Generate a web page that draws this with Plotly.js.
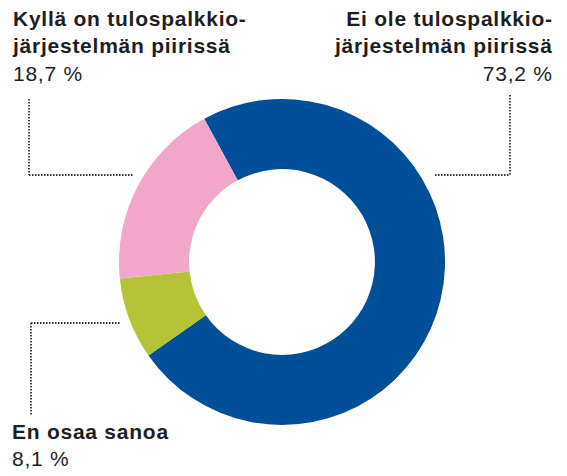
<!DOCTYPE html>
<html>
<head>
<meta charset="utf-8">
<script src="https://cdn.plot.ly/plotly-3.0.1.min.js"></script>
<style>html,body{margin:0;padding:0;background:#fff;}#chart{width:567px;height:476px;}
.annotation-text{letter-spacing:0.75px;}</style>
</head>
<body>
<div id="chart"></div>
<script>
const categories = ["Ei ole tulospalkkio-<br>järjestelmän piirissä", "En osaa sanoa", "Kyllä on tulospalkkio-<br>järjestelmän piirissä"];
const values = [73.2, 8.1, 18.7];
const valueLabels = ["73,2 %", "8,1 %", "18,7 %"];
const colors = ["#004f98", "#b5c337", "#f2a6c9"];

const W = 567, H = 476;
const px = x => x / W;
const py = y => 1 - y / H;

const trace = {
  type: "pie",
  values: values,
  labels: categories,
  sort: false,
  direction: "clockwise",
  rotation: -28.5,
  hole: 0.57,
  textinfo: "none",
  hoverinfo: "label+percent",
  marker: {colors: colors, line: {width: 0}},
  domain: {x: [px(119), px(445)], y: [py(425), py(99)]},
  showlegend: false
};

const font = "Liberation Sans, Arial, Helvetica, sans-serif";
const tc = "#1e1e1e";
function lab(i, x, y, xanchor, align) {
  return {
    xref: "paper", yref: "paper", x: px(x), y: py(y),
    xanchor: xanchor, yanchor: "top", align: align, showarrow: false,
    text: "<b>" + categories[i] + "</b><br>" + valueLabels[i],
    font: {family: font, size: 21, color: tc}
  };
}

const lineStyle = {color: "#333333", width: 1.8, dash: "1.5px,1.5px"};
function seg(x0, y0, x1, y1) {
  return {type: "line", xref: "paper", yref: "paper", x0: px(x0), y0: py(y0), x1: px(x1), y1: py(y1), line: lineStyle};
}

const layout = {
  width: W, height: H,
  margin: {l: 0, r: 0, t: 0, b: 0},
  paper_bgcolor: "#ffffff",
  plot_bgcolor: "#ffffff",
  annotations: [
    lab(2, 10, 5, "left", "left"),
    lab(0, 555, 5, "right", "right"),
    lab(1, 10, 418, "left", "left")
  ],
  shapes: [
    seg(29, 99, 29, 175), seg(29, 175, 133, 175),
    seg(510, 95, 510, 175), seg(435, 175, 510, 175),
    seg(31, 323, 120, 323), seg(31, 323, 31, 416)
  ]
};

Plotly.newPlot("chart", [trace], layout, {staticPlot: true, displayModeBar: false});
</script>
</body>
</html>
